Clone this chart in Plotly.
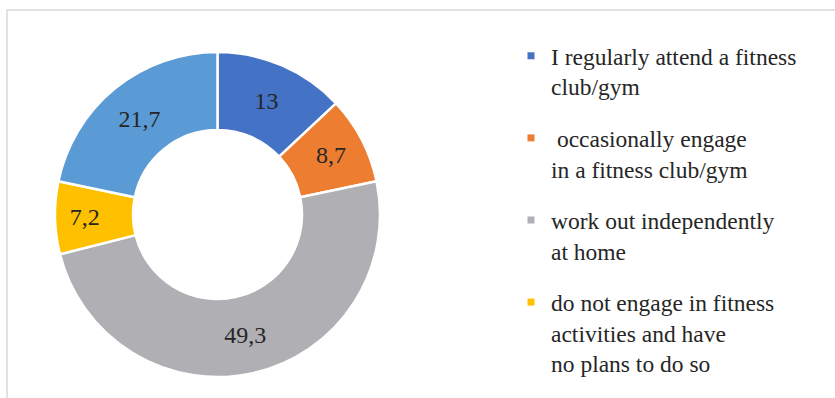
import plotly.graph_objects as go

# Survey shares, %, in clockwise order from 12 o'clock
categories = [
    "I regularly attend a fitness<br>club/gym",
    " occasionally engage<br>in a fitness club/gym",
    "work out independently<br>at home",
    "do not engage in fitness<br>activities and have<br>no plans to do so",
    "other",
]
values = [13, 8.7, 49.3, 7.2, 21.7]
colors = ["#4472C4", "#ED7D31", "#B0B0B4", "#FFC000", "#5B9BD5"]
legend_count = 4  # entries listed beside the ring

W, H = 835, 398
serif = "Liberation Serif, Times New Roman, serif"

fig = go.Figure()

fig.add_trace(go.Pie(
    labels=categories,
    values=values,
    sort=False,
    direction="clockwise",
    rotation=0,
    hole=0.52,
    marker=dict(colors=colors, line=dict(color="white", width=2.5)),
    texttemplate="%{value}",
    textposition="inside",
    insidetextorientation="horizontal",
    textfont=dict(family=serif, size=24, color="#262626"),
    domain=dict(x=[55 / W, 380 / W], y=[1 - 377 / H, 1 - 52 / H]),
    showlegend=False,
    hoverinfo="label+value",
))

# Legend entries as square swatches
for i in range(legend_count):
    fig.add_trace(go.Scatter(
        x=[None], y=[None],
        mode="markers",
        name=categories[i],
        legendgroup=f"g{i}",
        marker=dict(symbol="square", size=7, color=colors[i]),
    ))

fig.update_layout(
    width=W, height=H,
    margin=dict(l=0, r=0, t=0, b=0),
    paper_bgcolor="white",
    plot_bgcolor="white",
    separators=", ",
    font=dict(family=serif),
    xaxis=dict(visible=False),
    yaxis=dict(visible=False),
    legend=dict(
        x=511 / W, xanchor="left",
        y=1 - 34 / H, yanchor="top",
        valign="top",
        font=dict(family=serif, size=23.5, color="#262626"),
        tracegroupgap=18,
        itemsizing="trace",
        bgcolor="rgba(0,0,0,0)",
    ),
    shapes=[dict(
        type="rect", xref="paper", yref="paper",
        x0=7 / W, x1=1.02, y0=-0.02, y1=1 - 10 / H,
        line=dict(color="#D9D9D9", width=1.5),
        fillcolor="rgba(0,0,0,0)", layer="below",
    )],
)

fig.write_html("out.html")
